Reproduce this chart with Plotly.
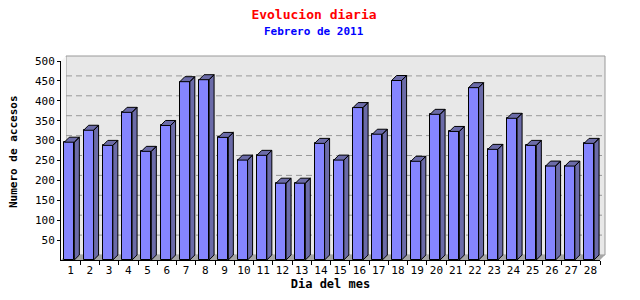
import plotly.graph_objects as go

days = list(range(1, 29))
visits = [296, 326, 288, 371, 273, 338, 448, 453, 308, 251, 263, 193, 193, 293,
          251, 383, 316, 451, 248, 366, 323, 433, 278, 356, 288, 236, 236, 293]
y_ticks = list(range(50, 501, 50))
grid_vals = list(range(50, 451, 50))

TITLE = "Evolucion diaria"
SUBTITLE = "Febrero de 2011"
X_TITLE = "Dia del mes"
Y_TITLE = "Numero de accesos"

# geometry (pixels)
W, H = 640, 300
ML, MR, MT, MB = 61, 40, 61, 40
PW, PH = W - ML - MR, H - MT - MB
YMAX = 500
XMIN, XMAX = 0.5, 28.5
DEPTH = 5
px_x = PW / (XMAX - XMIN)
px_y = PH / YMAX
dxu = DEPTH / px_x
dyu = DEPTH / px_y
dxp = DEPTH / PW
dyp = DEPTH / PH

BAR_W = 10 / px_x
BAR_OFF = -6.3 / px_x

FRONT = "#8585ff"
SIDE = "#6b6ba8"

fig = go.Figure()

fig.add_trace(go.Bar(x=days, y=visits, width=BAR_W, offset=BAR_OFF,
                     marker=dict(color=FRONT, line=dict(color="black", width=1)),
                     hoverinfo="skip"))

px_, py_ = [], []
for d, v in zip(days, visits):
    x0 = d + BAR_OFF
    x1 = x0 + BAR_W
    # top face
    px_ += [x0, x0 + dxu, x1 + dxu, x1, x0, None]
    py_ += [v, v + dyu, v + dyu, v, v, None]
    # side face
    px_ += [x1, x1 + dxu, x1 + dxu, x1, x1, None]
    py_ += [0, dyu, v + dyu, v, 0, None]
fig.add_trace(go.Scatter(x=px_, y=py_, mode="lines", fill="toself",
                         fillcolor=SIDE, line=dict(color="black", width=1),
                         hoverinfo="skip"))

shapes = []
# back wall
shapes.append(dict(type="rect", xref="paper", yref="paper", x0=dxp, x1=1 + dxp,
                   y0=dyp, y1=1 + dyp, fillcolor="#e8e8e8",
                   line=dict(color="#999999", width=1), layer="below"))
# left wall
shapes.append(dict(type="path", xref="paper", yref="paper",
                   path=f"M 0 0 L {dxp} {dyp} L {dxp} {1+dyp} L 0 1 Z",
                   fillcolor="#f6f6f6", line=dict(width=0), layer="below"))
# floor
shapes.append(dict(type="path", xref="paper", yref="paper",
                   path=f"M 0 0 L 1 0 L {1+dxp} {dyp} L {dxp} {dyp} Z",
                   fillcolor="#a6a6a6", line=dict(width=0), layer="below"))
for g in grid_vals:
    shapes.append(dict(type="line", xref="paper", yref="paper", x0=dxp, x1=1 + dxp,
                       y0=g / YMAX + dyp, y1=g / YMAX + dyp,
                       line=dict(color="#999999", width=1, dash="6px,4px"),
                       layer="below"))

fig.update_layout(
    width=W, height=H,
    margin=dict(l=ML, r=MR, t=MT, b=MB, pad=0),
    paper_bgcolor="white", plot_bgcolor="rgba(0,0,0,0)",
    showlegend=False, bargap=0,
    shapes=shapes,
    font=dict(family="DejaVu Sans Mono", size=11, color="black"),
    title=dict(text="<b>" + TITLE + "</b>", x=314 / W, xanchor="center", xref="container",
               y=1 - 14 / H, yanchor="middle", yref="container",
               font=dict(family="DejaVu Sans Mono", size=13, color="#ff0000")),
    annotations=[
        dict(text="<b>" + SUBTITLE + "</b>", xref="paper", yref="paper",
             x=(314 - ML) / PW, y=(H - MB - 32) / PH, xanchor="center",
             yanchor="middle", showarrow=False,
             font=dict(family="DejaVu Sans Mono", size=11, color="#0000ff")),
        dict(text="<b>" + Y_TITLE + "</b>", xref="paper", yref="paper",
             x=(13 - ML) / PW, y=(H - MB - 152) / PH, xanchor="center",
             yanchor="middle", textangle=-90, showarrow=False,
             font=dict(family="DejaVu Sans Mono", size=11, color="black")),
    ],
    xaxis=dict(range=[XMIN, XMAX], tickmode="array", tickvals=days,
               ticktext=[str(d) for d in days], ticks="", showgrid=False,
               zeroline=False, showline=True, linecolor="black", linewidth=1,
               tickfont=dict(size=11),
               minor=dict(tickmode="array", tickvals=[d + 0.5 for d in days],
                          ticks="outside", ticklen=4, tickcolor="black",
                          showgrid=False),
               title=dict(text="<b>" + X_TITLE + "</b>", standoff=1,
                          font=dict(size=12))),
    yaxis=dict(range=[0, YMAX], tickmode="array", tickvals=y_ticks,
               ticks="outside", ticklen=3, tickcolor="black", showgrid=False,
               zeroline=False, showline=True, linecolor="black", linewidth=1,
               tickfont=dict(size=11)),
)

fig.write_html("out.html")
